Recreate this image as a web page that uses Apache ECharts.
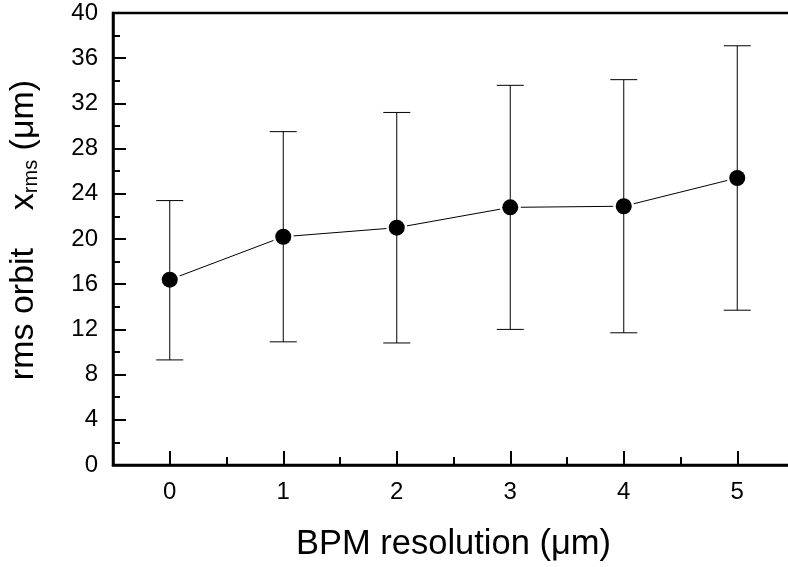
<!DOCTYPE html>
<html>
<head>
<meta charset="utf-8">
<script src="https://cdn.jsdelivr.net/npm/echarts@6/dist/echarts.min.js"></script>
<style>html,body{margin:0;padding:0;background:#fff}#c{width:788px;height:567px}</style>
</head>
<body>
<div id="c"></div>
<script>
var categories = ['0', '1', '2', '3', '4', '5'];
var meanValues = [16.4, 20.2, 21.0, 22.8, 22.9, 25.4];
var lowerValues = [9.3, 10.9, 10.8, 12.0, 11.7, 13.7];
var upperValues = [23.4, 29.5, 31.2, 33.6, 34.1, 37.1];
var yTicks = { min: 0, max: 40, interval: 4 };

var FONT = 'Liberation Sans, Arial, sans-serif';
var GW = 681, GH = 452;
var chart = echarts.init(document.getElementById('c'));
var errData = categories.map(function (c, i) { return [i, lowerValues[i], upperValues[i]]; });
var tickStyle = { color: '#000', width: 2 };

chart.setOption({
  animation: false,
  backgroundColor: '#fff',
  textStyle: { fontFamily: FONT, color: '#000' },
  grid: { left: 113, top: 13, width: GW, height: GH, outerBoundsMode: 'none', containLabel: false,
          show: true, borderColor: '#000', borderWidth: 2.5, backgroundColor: 'transparent' },
  xAxis: [{
    type: 'category', data: categories, boundaryGap: true, position: 'bottom',
    axisLine: { lineStyle: { color: '#000', width: 2.5 } },
    axisTick: { show: false },
    axisLabel: { fontSize: 24, color: '#000', margin: 15, fontFamily: FONT },
    splitLine: { show: false },
    name: 'BPM resolution (\u03bcm)', nameLocation: 'middle', nameGap: 62,
    nameTextStyle: { fontSize: 34.5, color: '#000', fontFamily: FONT }
  }, {
    type: 'category', data: categories, boundaryGap: true, position: 'top', offset: -GH,
    axisLine: { show: false },
    axisTick: { show: true, alignWithLabel: true, length: 14, lineStyle: tickStyle },
    axisLabel: { show: false }, splitLine: { show: false }
  }, {
    type: 'category', data: categories, boundaryGap: true, position: 'top', offset: -GH,
    axisLine: { show: false },
    axisTick: { show: true, alignWithLabel: false, length: 8, lineStyle: tickStyle },
    axisLabel: { show: false }, splitLine: { show: false }
  }],
  yAxis: [{
    type: 'value', min: yTicks.min, max: yTicks.max, interval: yTicks.interval, position: 'left',
    axisLine: { show: true, lineStyle: { color: '#000', width: 2.5 } },
    axisTick: { show: false }, minorTick: { show: false },
    splitLine: { show: false }, minorSplitLine: { show: false },
    axisLabel: { fontSize: 24, color: '#000', margin: 15, fontFamily: FONT },
    name: '{m|rms orbit    x}{s|rms}{m| (\u03bcm)}',
    nameLocation: 'middle', nameRotate: 90, nameGap: 72,
    nameTextStyle: {
      fontFamily: FONT, color: '#000', padding: [0, 0, 0, 18],
      rich: {
        m: { fontSize: 34, lineHeight: 42, fontFamily: FONT, color: '#000', verticalAlign: 'bottom' },
        s: { fontSize: 20, lineHeight: 20, fontFamily: FONT, color: '#000', verticalAlign: 'bottom' }
      }
    }
  }, {
    type: 'value', min: yTicks.min, max: yTicks.max, interval: yTicks.interval,
    position: 'right', offset: -GW,
    axisLine: { show: false },
    axisTick: { show: true, length: 13, lineStyle: tickStyle },
    minorTick: { show: true, splitNumber: 2, length: 7, lineStyle: tickStyle },
    axisLabel: { show: false }, splitLine: { show: false }, minorSplitLine: { show: false }
  }],
  series: [{
    type: 'line', data: meanValues, xAxisIndex: 0, yAxisIndex: 0, symbol: 'none', z: 1,
    lineStyle: { color: '#000', width: 1 }
  }, {
    type: 'scatter', data: meanValues, xAxisIndex: 0, yAxisIndex: 0, symbolSize: 21, z: 2,
    itemStyle: { color: '#fff', opacity: 1 }, silent: true
  }, {
    type: 'custom', data: errData, xAxisIndex: 0, yAxisIndex: 0, z: 3,
    renderItem: function (params, api) {
      var x = api.value(0);
      var lo = api.coord([x, api.value(1)]);
      var hi = api.coord([x, api.value(2)]);
      var hw = 13.5;
      var st = { stroke: '#000', lineWidth: 1 };
      return { type: 'group', children: [
        { type: 'line', shape: { x1: lo[0], y1: lo[1], x2: hi[0], y2: hi[1] }, style: st },
        { type: 'line', shape: { x1: lo[0] - hw, y1: lo[1], x2: lo[0] + hw, y2: lo[1] }, style: st },
        { type: 'line', shape: { x1: hi[0] - hw, y1: hi[1], x2: hi[0] + hw, y2: hi[1] }, style: st }
      ] };
    }
  }, {
    type: 'scatter', data: meanValues, xAxisIndex: 0, yAxisIndex: 0, symbolSize: 16, z: 4,
    itemStyle: { color: '#000', opacity: 1 }
  }]
});
</script>
</body>
</html>
